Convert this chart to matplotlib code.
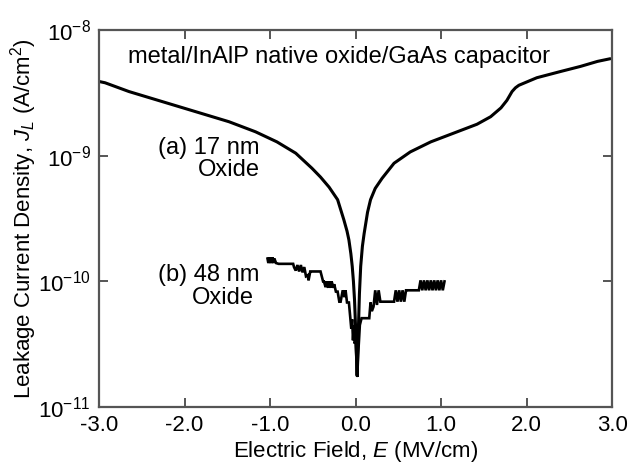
import math
import matplotlib
matplotlib.use("Agg")
import matplotlib.pyplot as plt
from matplotlib.ticker import FixedLocator, NullLocator, FuncFormatter

plt.rcParams['font.family'] = ['Liberation Sans', 'DejaVu Sans']
plt.rcParams['mathtext.fontset'] = 'custom'
plt.rcParams['mathtext.rm'] = 'Liberation Sans'
plt.rcParams['mathtext.it'] = 'Liberation Sans:italic'
plt.rcParams['mathtext.default'] = 'regular'

# (a) 17 nm oxide, field in MV/cm and leakage current density in A/cm^2
field_a = [-3.0, -2.93, -2.65, -2.26, -1.87, -1.48, -1.17, -0.92, -0.70, -0.51,
           -0.41, -0.31, -0.21, -0.137, -0.10, -0.078, -0.055, -0.039,
           -0.025, -0.012, 0.005, 0.018, 0.03, 0.045, 0.06, 0.08, 0.10, 0.14,
           0.175, 0.23, 0.31, 0.45, 0.64, 0.88, 1.15, 1.42, 1.58, 1.70, 1.77,
           1.83, 1.87, 1.91, 2.12, 2.40, 2.63, 2.83, 2.97]
log_j_a = [-8.41, -8.42, -8.49, -8.57, -8.65, -8.73, -8.81, -8.89, -8.98, -9.10,
           -9.17, -9.25, -9.35, -9.51, -9.60, -9.67, -9.78, -9.88,
           -10.0, -10.15, -10.45, -10.75, -10.45, -10.1, -9.88, -9.72, -9.62, -9.45,
           -9.35, -9.26, -9.18, -9.06, -8.97, -8.89, -8.82, -8.75, -8.69, -8.62, -8.56,
           -8.49, -8.46, -8.44, -8.38, -8.33, -8.29, -8.25, -8.23]
current_a = [10 ** v for v in log_j_a]

# (b) 48 nm oxide
field_b = [-1.03, -1.02, -1.01, -1.00, -0.99, -0.98, -0.97, -0.96, -0.95, -0.93,
           -0.90, -0.73, -0.72, -0.70, -0.68, -0.66, -0.64, -0.62, -0.60, -0.58,
           -0.56, -0.55, -0.53, -0.51, -0.41, -0.38, -0.37, -0.35, -0.34, -0.32,
           -0.31, -0.29, -0.28, -0.26, -0.25, -0.23, -0.21, -0.19, -0.175, -0.15,
           -0.13, -0.117, -0.10, -0.078, -0.06, -0.05, -0.04, -0.03, -0.02, -0.01,
           0.0, 0.01, 0.02, 0.03, 0.04, 0.05, 0.07, 0.09, 0.12, 0.16, 0.175,
           0.19, 0.21, 0.23, 0.25, 0.27, 0.29, 0.45, 0.47, 0.49, 0.51, 0.53,
           0.55, 0.57, 0.59, 0.61, 0.74, 0.76, 0.78, 0.80, 0.82, 0.84, 0.86,
           0.88, 0.90, 0.92, 0.94, 0.96, 0.98, 1.00, 1.02, 1.04]
current_b = [1.52e-10, 1.40e-10, 1.55e-10, 1.40e-10, 1.55e-10, 1.40e-10, 1.55e-10, 1.40e-10, 1.52e-10, 1.40e-10,
             1.38e-10, 1.38e-10, 1.30e-10, 1.22e-10, 1.35e-10, 1.20e-10, 1.35e-10, 1.18e-10, 1.30e-10, 1.10e-10,
             1.12e-10, 1.02e-10, 1.20e-10, 1.20e-10, 1.20e-10, 1.00e-10, 1.00e-10, 9.0e-11, 1.00e-10, 8.9e-11,
             1.00e-10, 8.9e-11, 1.00e-10, 8.9e-11, 9.5e-11, 8.3e-11, 8.3e-11, 6.9e-11, 6.9e-11, 8.5e-11,
             7.5e-11, 8.5e-11, 6.8e-11, 6.8e-11, 5.0e-11, 4.2e-11, 5.0e-11, 3.4e-11, 4.5e-11, 3.2e-11,
             3.4e-11, 2.4e-11, 1.74e-11, 2.6e-11, 3.4e-11, 4.5e-11, 5.1e-11, 5.1e-11, 5.1e-11, 5.1e-11, 6.8e-11,
             5.8e-11, 6.3e-11, 8.5e-11, 6.5e-11, 8.5e-11, 6.9e-11, 6.9e-11, 8.5e-11, 6.9e-11, 8.5e-11, 6.9e-11,
             8.5e-11, 6.9e-11, 8.5e-11, 8.5e-11, 8.5e-11, 1.02e-10, 8.5e-11, 1.02e-10, 8.5e-11, 1.02e-10, 8.5e-11,
             1.02e-10, 8.5e-11, 1.02e-10, 8.5e-11, 1.02e-10, 8.5e-11, 1.02e-10, 8.5e-11, 1.0e-10]

x_ticks = [-3.0, -2.0, -1.0, 0.0, 1.0, 2.0, 3.0]
y_ticks = [1e-11, 1e-10, 1e-9, 1e-8]

fig = plt.figure(figsize=(6.31, 4.68), dpi=100)
ax = fig.add_axes([0.157, 0.130, 0.813, 0.806])

ax.plot(field_a, current_a, color='black', lw=2.2, solid_joinstyle='round')
ax.plot(field_b, current_b, color='black', lw=1.9, solid_joinstyle='miter')

ax.set_yscale('log')
ax.set_xlim(-3.0, 3.0)
ax.set_ylim(1e-11, 1e-8)
ax.xaxis.set_major_locator(FixedLocator(x_ticks))
ax.yaxis.set_major_locator(FixedLocator(y_ticks))
ax.yaxis.set_minor_locator(NullLocator())
ax.xaxis.set_major_formatter(FuncFormatter(lambda v, p: f'{v:.1f}'))
ax.yaxis.set_major_formatter(FuncFormatter(lambda v, p: r'$10^{%d}$' % round(math.log10(v))))

for s in ax.spines.values():
    s.set_color('#555555')
    s.set_linewidth(1.6)
ax.tick_params(which='both', direction='in', top=True, right=True, length=6.5,
               width=1.4, color='#555555', labelsize=16, pad=6)

ax.set_xlabel(r'Electric Field, $\mathit{E}$ (MV/cm)', fontsize=16, labelpad=2)
ax.set_ylabel(r'Leakage Current Density, $\mathit{J_L}$ (A/cm$^2$)', fontsize=16, labelpad=-1)

ax.text(0.0565, 0.928, 'metal/InAlP native oxide/GaAs capacitor', transform=ax.transAxes,
        fontsize=17, ha='left', va='center')
ax.text(0.115, 0.688, '(a) 17 nm', transform=ax.transAxes, fontsize=17, ha='left', va='center')
ax.text(0.193, 0.629, 'Oxide', transform=ax.transAxes, fontsize=17, ha='left', va='center')
ax.text(0.115, 0.350, '(b) 48 nm', transform=ax.transAxes, fontsize=17, ha='left', va='center')
ax.text(0.181, 0.289, 'Oxide', transform=ax.transAxes, fontsize=17, ha='left', va='center')

fig.savefig('out.png', dpi=100)
